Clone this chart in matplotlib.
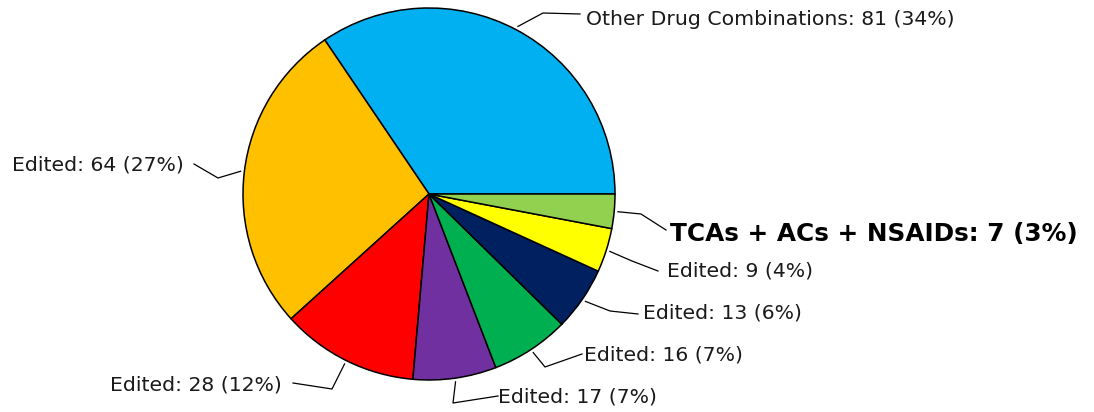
import numpy as np
import matplotlib
matplotlib.use('Agg')
import matplotlib.pyplot as plt

# data
names = ['Other Drug Combinations', 'Edited', 'Edited', 'Edited',
         'Edited', 'Edited', 'Edited', 'TCAs + ACs + NSAIDs']
counts = [81, 64, 28, 17, 16, 13, 9, 7]
colors = ['#00B0F0', '#FFC000', '#FF0000', '#7030A0',
          '#00B050', '#002060', '#FFFF00', '#92D050']

# label layout (pixel coords, y down): text anchor, elbow, line end
text_pos = [(586, 19), (184, 165), (110, 385), (498, 397),
            (584, 355), (643, 313), (667, 271), (670, 234)]
text_ha = ['left', 'right', 'left', 'left', 'left', 'left', 'left', 'left']
elbows = [(543, 13), (218, 178), (332, 389), (453, 403),
          (545, 367), (610, 311), (632, 261), (641, 214)]
line_ends = [(580, 14), (194, 164), (293, 383), (498, 396),
             (582, 354), (638, 314), (658, 271), (666, 230)]

fig = plt.figure(figsize=(10.94, 4.12), dpi=100)
ax = fig.add_axes([0, 0, 1, 1])

cx, cy, R = 429, 194, 186
wedges, _ = ax.pie(counts, colors=colors, startangle=0, counterclock=False,
                   center=(cx, cy), radius=R,
                   wedgeprops=dict(edgecolor='black', linewidth=1.1))

ax.set_xlim(0, 1094)
ax.set_ylim(412, 0)
ax.set_aspect('equal')
ax.axis('off')

total = sum(counts)
for i, w in enumerate(wedges):
    mid = np.deg2rad((w.theta1 + w.theta2) / 2)
    sx = cx + 1.02 * R * np.cos(mid)
    sy = cy + 1.02 * R * np.sin(mid)
    ex, ey = elbows[i]
    lx, ly = line_ends[i]
    ax.plot([sx, ex, lx], [sy, ey, ly], color='black', lw=0.9)
    pct = round(counts[i] / total * 100)
    txt = f'{names[i]}: {counts[i]} ({pct}%)'
    if i == len(wedges) - 1:
        ax.text(*text_pos[i], txt, ha=text_ha[i], va='center',
                fontsize=17.8, fontweight='bold', color='black')
    else:
        ax.text(*text_pos[i], txt, ha=text_ha[i], va='center',
                fontsize=14.7, color='#1a1a1a')

fig.savefig('out.png', dpi=100)
